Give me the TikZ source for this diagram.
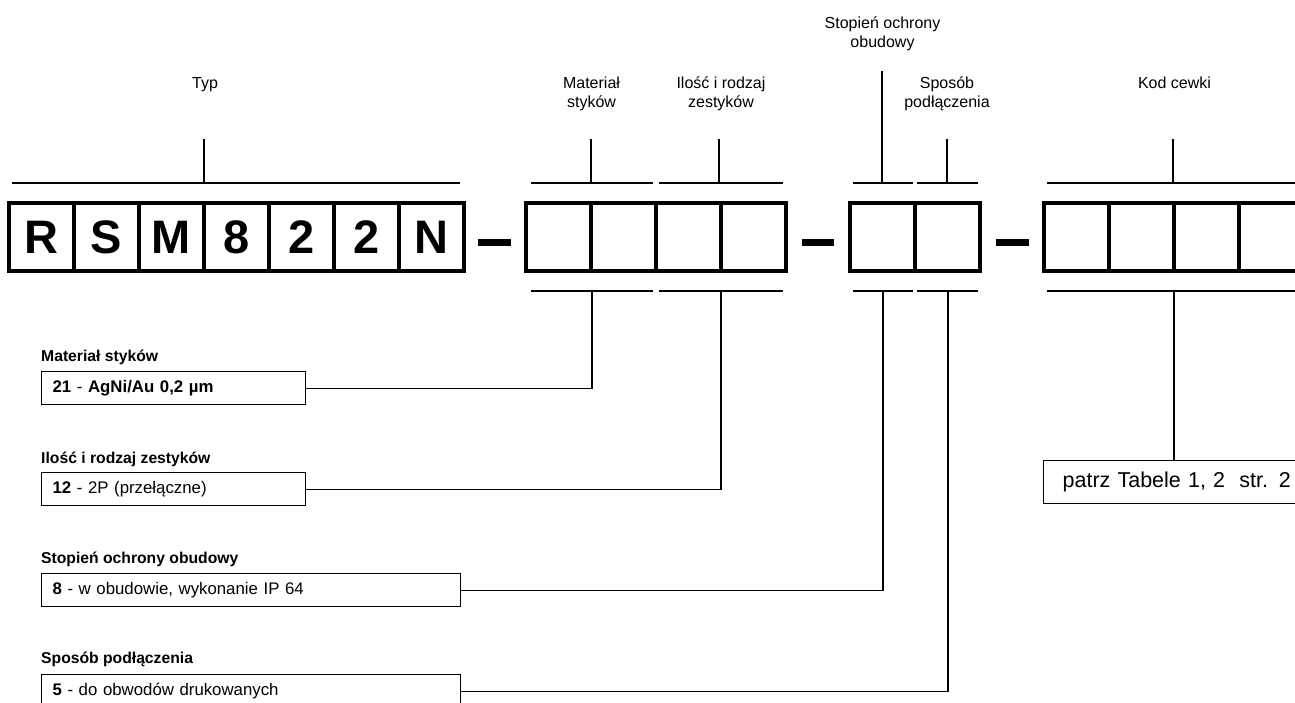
\documentclass[tikz,border=0pt]{standalone}
\usepackage{fontspec}
\setmainfont{Liberation Sans}
\begin{document}
\begin{tikzpicture}[x=1pt,y=-1pt,
  cell/.style={draw, line width=3.2pt, minimum width=65pt, minimum height=68pt,
    inner sep=0pt, outer sep=0pt, font=\fontsize{47}{47}\selectfont\bfseries},
  bar/.style={line width=2pt},
  dashbar/.style={line width=6.5pt},
  lab/.style={font=\fontsize{16}{19}\selectfont, align=center, inner sep=0pt, anchor=base},
  head/.style={font=\fontsize{15.7}{18}\selectfont\bfseries, anchor=base west, inner sep=0pt},
  optbox/.style={draw, line width=1.2pt, anchor=north west, minimum height=33pt,
    inner xsep=11pt, inner ysep=0pt, align=left, font=\fontsize{16.8}{18}\selectfont},
  conn/.style={line width=1.2pt}
]
\useasboundingbox (0,0) rectangle (1295,702);
\clip (0,0) rectangle (1295,702);

% main cells
\node[cell] (c1) at (41.5,237) {R};
\node[cell] (c2) at (106.5,237) {S};
\node[cell] (c3) at (171.5,237) {M};
\node[cell] (c4) at (236.5,237) {8};
\node[cell] (c5) at (301.5,237) {2};
\node[cell] (c6) at (366.5,237) {2};
\node[cell] (c7) at (431.5,237) {N};
\node[cell] (m1) at (558.5,237) {};
\node[cell] (m2) at (623.5,237) {};
\node[cell] (z1) at (688.5,237) {};
\node[cell] (z2) at (753.5,237) {};
\node[cell] (s1) at (882.5,237) {};
\node[cell] (p1) at (947.5,237) {};
\node[cell] (k1) at (1076.5,237) {};
\node[cell] (k2) at (1141.5,237) {};
\node[cell] (k3) at (1206.5,237) {};
\node[cell] (k4) at (1271.5,237) {};

% dashes
\draw[dashbar] (478,242.5) -- (511,242.5);
\draw[dashbar] (802,242.5) -- (834,242.5);
\draw[dashbar] (996,242.5) -- (1029,242.5);

% top labels
\node[lab] (tTyp) at (205,88) {Typ};
\node[lab] (tMat) at (591.5,107) {Materiał\\styków};
\node[lab] (tIlo) at (721,107) {Ilość i rodzaj\\zestyków};
\node[lab] (tSto) at (882.5,47.5) {Stopień ochrony\\obudowy};
\node[lab] (tSpo) at (947,107) {Sposób\\podłączenia};
\node[lab] (tKod) at (1174.5,88) {Kod cewki};

% top brackets
\draw[bar] (12,183) -- (460,183);
\draw[bar] (204,139) -- (204,183);
\draw[bar] (531,183) -- (653,183);
\draw[bar] (591,139) -- (591,183);
\draw[bar] (659,183) -- (783,183);
\draw[bar] (719,139) -- (719,183);
\draw[bar] (853,183) -- (913,183);
\draw[bar] (882,71) -- (882,183);
\draw[bar] (917,183) -- (978,183);
\draw[bar] (947,139) -- (947,183);
\draw[bar] (1047,183) -- (1300,183);
\draw[bar] (1173,139) -- (1173,183);

% bottom brackets
\draw[bar] (531,291) -- (653,291);
\draw[bar] (659,291) -- (783,291);
\draw[bar] (853,291) -- (913,291);
\draw[bar] (917,291) -- (978,291);
\draw[bar] (1047,291) -- (1300,291);
\coordinate (jMat) at (592,291);
\coordinate (jIlo) at (721,291);
\coordinate (jSto) at (883,291);
\coordinate (jSpo) at (948,291);
\coordinate (jKod) at (1174,291);

% left option boxes
\node[head] (hMat) at (41,361) {Materiał styków};
\node[optbox, minimum width=264pt, text width=242pt] (bMat) at (41,371)
  {\textbf{21} - \textbf{AgNi/Au 0,2 µm}};
\node[head] (hIlo) at (41,463) {Ilość i rodzaj zestyków};
\node[optbox, minimum width=264pt, text width=242pt] (bIlo) at (41,472)
  {\textbf{12} - 2P (przełączne)};
\node[head] (hSto) at (41,563) {Stopień ochrony obudowy};
\node[optbox, minimum width=419pt, text width=397pt] (bSto) at (41,573)
  {\textbf{8} - w obudowie, wykonanie IP 64};
\node[head] (hSpo) at (41,663) {Sposób podłączenia};
\node[optbox, minimum width=419pt, text width=397pt] (bSpo) at (41,674)
  {\textbf{5} - do obwodów drukowanych};

% right box
\node[draw, line width=1.2pt, anchor=north west, minimum height=43pt,
  inner xsep=19pt, inner ysep=0pt, text width=262pt, align=left,
  font=\fontsize{21.5}{24}\selectfont] (bKod) at (1043,460) {patrz Tabele 1, 2~~str. 2};

% connectors
\draw[conn] (bMat.east) -| (jMat);
\draw[conn] (bIlo.east) -| (jIlo);
\draw[conn] (bSto.east) -| (jSto);
\draw[conn] (bSpo.east) -| (jSpo);
\draw[conn] (jKod) -- (jKod |- bKod.north);
\end{tikzpicture}
\end{document}
